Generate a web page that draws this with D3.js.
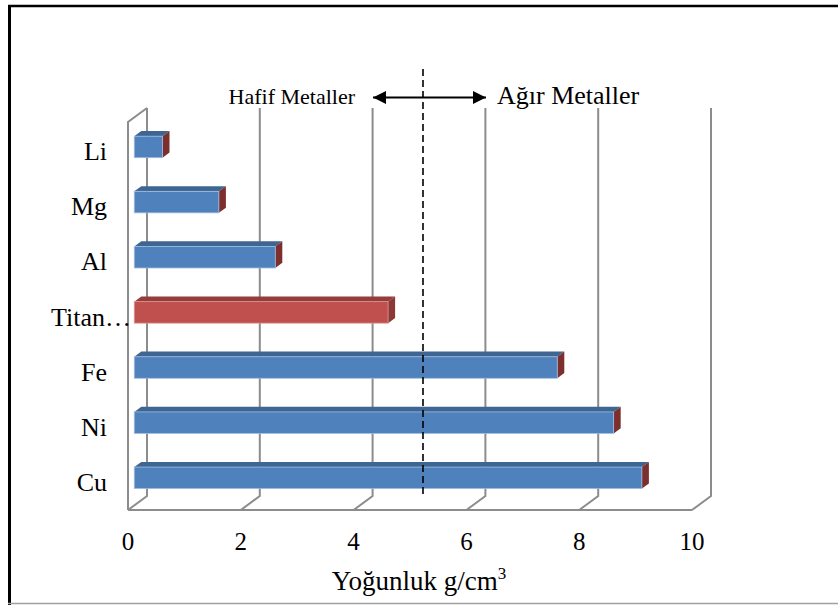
<!DOCTYPE html>
<html>
<head>
<meta charset="utf-8">
<script src="https://cdn.jsdelivr.net/npm/d3@7/dist/d3.min.js"></script>
<style>
  html, body { margin: 0; padding: 0; background: #ffffff; }
  svg { display: block; }
</style>
</head>
<body>
<svg id="chart" width="838" height="605" font-family="'Liberation Serif', 'DejaVu Serif', serif"></svg>
<script>
// Density of metals (g/cm³)
const categories = ["Li", "Mg", "Al", "Titan…", "Fe", "Ni", "Cu"];
const densities  = [0.5, 1.5, 2.5, 4.5, 7.5, 8.5, 9.0];
const highlight  = [false, false, false, true, false, false, false];
const xTicks     = [0, 2, 4, 6, 8, 10];
const axisTitle  = "Yoğunluk g/cm";
const lightLabel = "Hafif Metaller";
const heavyLabel = "Ağır Metaller";

const svg = d3.select("#chart");
const W = 838, H = 605;

// frame
svg.append("line").attr("x1", 9.5).attr("y1", 5).attr("x2", 9.5).attr("y2", H)
  .attr("stroke", "#000").attr("stroke-width", 3);
svg.append("line").attr("x1", 8).attr("y1", 6).attr("x2", W).attr("y2", 6)
  .attr("stroke", "#000").attr("stroke-width", 2.5);
svg.append("line").attr("x1", 8).attr("y1", 603.5).attr("x2", W).attr("y2", 603.5)
  .attr("stroke", "#a0a0a0").attr("stroke-width", 1.5);

// 3D plot box: front plane + depth offset to the back wall
const DX = 19, DY = -14;
const floorY = 510, topY = 122;
const x = d3.scaleLinear().domain([0, 10]).range([128, 692]);
const y = d3.scaleBand().domain(categories).range([124, floorY]).padding(0);

const grid = svg.append("g").attr("fill", "none").attr("stroke", "#8c8c8c").attr("stroke-width", 2);

// left side wall
grid.append("path").attr("d",
  `M${x(0)},${floorY}V${topY}L${x(0) + DX},${topY + DY}`);
// front floor edge
grid.append("path").attr("d", `M${x(0)},${floorY}H${x(10)}`);
// gridlines on back wall, running down and forward across the floor
xTicks.forEach(t => {
  grid.append("path").attr("d",
    `M${x(t) + DX},${topY + DY}V${floorY + DY}L${x(t)},${floorY}`);
});

// bars
const t0 = 0.33, depth = 0.37;
const bx = t0 * DX, by = t0 * DY;
const ddx = depth * DX, ddy = depth * DY;
const hFrac = 0.39;

const bars = svg.append("g");
categories.forEach((c, i) => {
  const v = densities[i];
  const h = y.bandwidth() * hFrac;
  const yc = y(c) + y.bandwidth() / 2 + by;
  const x0 = x(0) + bx, x1 = x(v) + bx;
  const yt = yc - h / 2, yb = yc + h / 2;
  const red = highlight[i];
  const front = red ? "#c0504d" : "#4f81bd";
  const top = red ? "#963c3a" : "#3f6593";
  const side = red ? "#8c3836" : "#7d2f2e";
  const g = bars.append("g");
  g.append("path").attr("fill", top)
    .attr("d", `M${x0},${yt}L${x0 + ddx},${yt + ddy}H${x1 + ddx}L${x1},${yt}Z`);
  g.append("path").attr("fill", side)
    .attr("d", `M${x1},${yt}L${x1 + ddx},${yt + ddy}V${yb + ddy}L${x1},${yb}Z`);
  g.append("rect").attr("x", x0).attr("y", yt).attr("width", x1 - x0).attr("height", h)
    .attr("fill", front).attr("stroke", red ? "#d99795" : "#9fbce0").attr("stroke-width", 0.8);
});

// category labels
svg.append("g").selectAll("text").data(categories).join("text")
  .attr("x", d => d === "Titan…" ? 131 : 107)
  .attr("y", d => y(d) + y.bandwidth() / 2)
  .attr("dy", "0.33em")
  .attr("text-anchor", "end")
  .attr("font-size", 26)
  .text(d => d);

// value axis ticks
svg.append("g").selectAll("text").data(xTicks).join("text")
  .attr("x", d => x(d))
  .attr("y", 550)
  .attr("text-anchor", "middle")
  .attr("font-size", 25)
  .text(d => d);

// axis title with superscript
const title = svg.append("text").attr("x", 419).attr("y", 590)
  .attr("text-anchor", "middle").attr("font-size", 27);
title.append("tspan").text(axisTitle);
title.append("tspan").attr("dy", -11).attr("font-size", 17).text("3");

// boundary between light and heavy metals
const xb = 423;
svg.append("line").attr("x1", xb).attr("x2", xb).attr("y1", 69).attr("y2", 498)
  .attr("stroke", "#000").attr("stroke-width", 1.6).attr("stroke-dasharray", "7,4");

const defs = svg.append("defs");
defs.append("marker").attr("id", "head").attr("viewBox", "0 0 10 10")
  .attr("refX", 10).attr("refY", 5).attr("markerWidth", 6.5).attr("markerHeight", 6.5)
  .attr("markerUnits", "strokeWidth").attr("orient", "auto-start-reverse")
  .append("path").attr("d", "M0,0L10,5L0,10Z").attr("fill", "#000");

svg.append("line").attr("x1", 373).attr("x2", 486).attr("y1", 97.5).attr("y2", 97.5)
  .attr("stroke", "#000").attr("stroke-width", 2)
  .attr("marker-start", "url(#head)").attr("marker-end", "url(#head)");

svg.append("text").attr("x", 355).attr("y", 104).attr("text-anchor", "end")
  .attr("font-size", 22).text(lightLabel);
svg.append("text").attr("x", 497).attr("y", 104).attr("text-anchor", "start")
  .attr("font-size", 26).text(heavyLabel);
</script>
</body>
</html>
